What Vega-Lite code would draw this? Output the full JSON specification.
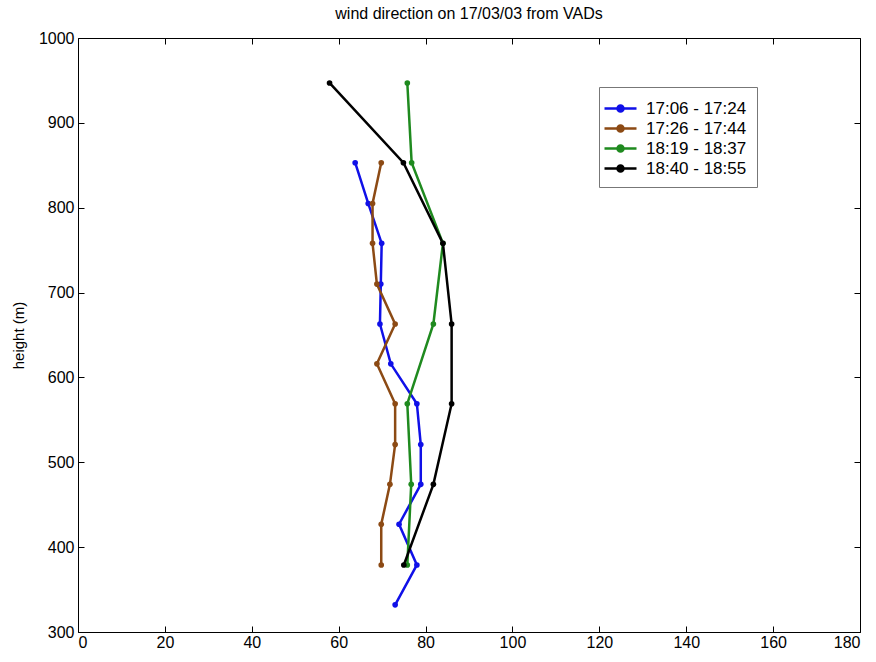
{
  "$schema": "https://vega.github.io/schema/vega-lite/v6.json",
  "width": 782,
  "height": 594,
  "autosize": {"type": "none"},
  "padding": {"left": 78, "top": 38, "right": 16, "bottom": 30},
  "background": "white",
  "config": {
    "font": "Liberation Sans",
    "view": {"stroke": "black", "strokeWidth": 1},
    "axis": {"grid": false, "domainColor": "black", "tickColor": "black", "labelColor": "black", "labelFontSize": 16, "labelFont": "Liberation Sans", "titleFont": "Liberation Sans", "titleFontWeight": "normal", "titleColor": "black", "tickSize": -6, "domain": false}
  },
  "title": {"text": "wind direction on 17/03/03 from VADs", "fontSize": 16, "fontWeight": "normal", "font": "Liberation Sans", "color": "black", "offset": 8},
  "data": {"values": [
    {"series": "17:06 - 17:24", "height": 853, "dir": 63.8},
    {"series": "17:06 - 17:24", "height": 805, "dir": 66.8},
    {"series": "17:06 - 17:24", "height": 758, "dir": 69.9},
    {"series": "17:06 - 17:24", "height": 710, "dir": 69.7},
    {"series": "17:06 - 17:24", "height": 663, "dir": 69.5},
    {"series": "17:06 - 17:24", "height": 616, "dir": 72.0},
    {"series": "17:06 - 17:24", "height": 569, "dir": 78.0},
    {"series": "17:06 - 17:24", "height": 521, "dir": 78.9},
    {"series": "17:06 - 17:24", "height": 474, "dir": 78.9},
    {"series": "17:06 - 17:24", "height": 427, "dir": 73.9},
    {"series": "17:06 - 17:24", "height": 379, "dir": 78.0},
    {"series": "17:06 - 17:24", "height": 332, "dir": 73.0},
    {"series": "17:26 - 17:44", "height": 853, "dir": 69.8},
    {"series": "17:26 - 17:44", "height": 805, "dir": 67.8},
    {"series": "17:26 - 17:44", "height": 758, "dir": 67.8},
    {"series": "17:26 - 17:44", "height": 710, "dir": 68.8},
    {"series": "17:26 - 17:44", "height": 663, "dir": 73.0},
    {"series": "17:26 - 17:44", "height": 616, "dir": 68.8},
    {"series": "17:26 - 17:44", "height": 569, "dir": 73.0},
    {"series": "17:26 - 17:44", "height": 521, "dir": 73.0},
    {"series": "17:26 - 17:44", "height": 474, "dir": 71.8},
    {"series": "17:26 - 17:44", "height": 427, "dir": 69.8},
    {"series": "17:26 - 17:44", "height": 379, "dir": 69.8},
    {"series": "18:19 - 18:37", "height": 947, "dir": 75.8},
    {"series": "18:19 - 18:37", "height": 853, "dir": 76.8},
    {"series": "18:19 - 18:37", "height": 758, "dir": 84.0},
    {"series": "18:19 - 18:37", "height": 663, "dir": 81.8},
    {"series": "18:19 - 18:37", "height": 569, "dir": 75.8},
    {"series": "18:19 - 18:37", "height": 474, "dir": 76.7},
    {"series": "18:19 - 18:37", "height": 379, "dir": 75.8},
    {"series": "18:40 - 18:55", "height": 947, "dir": 57.9},
    {"series": "18:40 - 18:55", "height": 853, "dir": 74.9},
    {"series": "18:40 - 18:55", "height": 758, "dir": 84.0},
    {"series": "18:40 - 18:55", "height": 663, "dir": 86.0},
    {"series": "18:40 - 18:55", "height": 569, "dir": 86.0},
    {"series": "18:40 - 18:55", "height": 474, "dir": 81.8},
    {"series": "18:40 - 18:55", "height": 379, "dir": 75.0}
  ]},
  "layer": [
    {
      "mark": {"type": "line", "strokeWidth": 2.5},
      "encoding": {
        "x": {"field": "dir", "type": "quantitative", "scale": {"domain": [0, 180], "nice": false}, "axis": {"values": [0,20,40,60,80,100,120,140,160,180], "title": null, "labelPadding": 8}},
        "y": {"field": "height", "type": "quantitative", "scale": {"domain": [300, 1000], "nice": false, "zero": false}, "axis": {"values": [300,400,500,600,700,800,900,1000], "format": "d", "title": "height  (m)", "titleFontSize": 15, "titlePadding": 12, "labelPadding": 10}},
        "order": {"field": "height", "type": "quantitative"},
        "color": {"field": "series", "type": "nominal",
          "scale": {"domain": ["17:06 - 17:24", "17:26 - 17:44", "18:19 - 18:37", "18:40 - 18:55"], "range": ["#1010e8", "#8c4a14", "#1f8a1f", "#000000"]}}
      }
    },
    {
      "mark": {"type": "circle", "opacity": 1, "size": 32},
      "encoding": {
        "x": {"field": "dir", "type": "quantitative", "axis": null},
        "y": {"field": "height", "type": "quantitative", "axis": null},
        "color": {"field": "series", "type": "nominal",
          "legend": {"title": null, "orient": "none", "legendX": 521, "legendY": 49, "labelFontSize": 17, "labelColor": "black", "labelFont": "Liberation Sans", "symbolType": "M-1.6,0L1.6,0M-0.3,0a0.3,0.3 0 1,0 0.6,0a0.3,0.3 0 1,0 -0.6,0", "symbolSize": 400, "symbolStrokeWidth": 2.5, "symbolOpacity": 1, "strokeColor": "#777777", "fillColor": "white", "padding": 10, "rowPadding": -3, "labelOffset": 14,
            "encode": {"symbols": {"update": {"stroke": {"scale": "color", "field": "value"}, "strokeWidth": {"value": 2.5}}}}}}
      }
    },
    {
      "mark": {"type": "point", "opacity": 0},
      "encoding": {
        "x": {"field": "dir", "type": "quantitative", "axis": {"orient": "top", "labels": false, "title": null, "values": [0,20,40,60,80,100,120,140,160,180]}},
        "y": {"field": "height", "type": "quantitative", "axis": {"orient": "right", "labels": false, "title": null, "values": [300,400,500,600,700,800,900,1000]}}
      }
    }
  ],
  "resolve": {"axis": {"x": "independent", "y": "independent"}}
}
